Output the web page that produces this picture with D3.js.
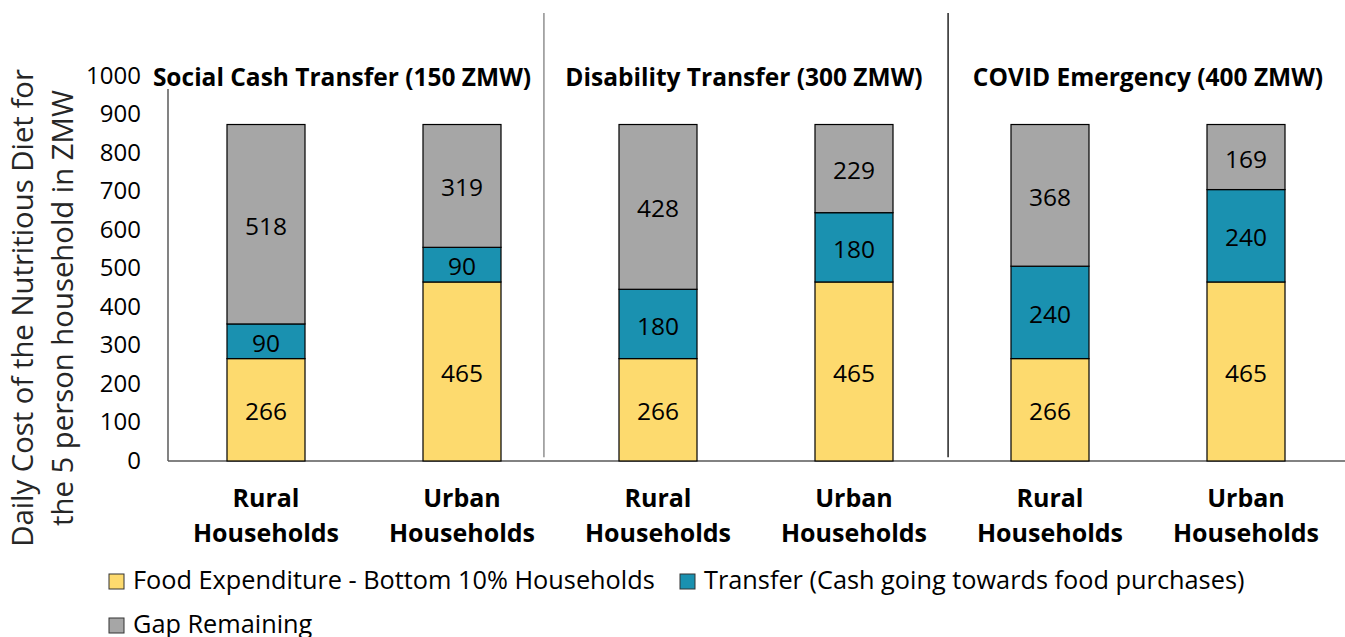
<!DOCTYPE html>
<html lang="en">
<head>
<meta charset="UTF-8">
<title>Cost of the Nutritious Diet vs transfers</title>
<script src="https://cdnjs.cloudflare.com/ajax/libs/d3/7.8.5/d3.min.js"></script>
<style>
    body { margin: 0; background: #fff; }
    text { font-family: "Open Sans", sans-serif; fill: #000; }
    .tick text { font-size: 24px; font-family: "Open Sans", sans-serif; }
    .bar { stroke: #000; stroke-width: 1.2px; }
    .val { font-size: 24.5px; text-anchor: middle; }
    .cat { font-size: 25px; font-weight: bold; text-anchor: middle; }
    .grp { font-size: 24.5px; font-weight: bold; text-anchor: middle; }
    .leg { font-size: 25.3px; }
</style>
</head>
<body>
<div id="chart"></div>
<script>
    // data
    const groups = ["Social Cash Transfer (150 ZMW)", "Disability Transfer (300 ZMW)", "COVID Emergency (400 ZMW)"];
    const categories = ["Rural Households", "Urban Households", "Rural Households", "Urban Households", "Rural Households", "Urban Households"];
    const food = [266, 465, 266, 465, 266, 465];
    const transfer = [90, 90, 180, 180, 240, 240];
    const gap = [518, 319, 428, 229, 368, 169];
    const seriesNames = ["Food Expenditure - Bottom 10% Households", "Transfer (Cash going towards food purchases)", "Gap Remaining"];
    const colors = ["#FDDA6E", "#1A91B0", "#A6A6A6"];
    const yTicks = [0, 100, 200, 300, 400, 500, 600, 700, 800, 900, 1000];

    const width = 1345, height = 637;
    const svg = d3.select("#chart").append("svg")
        .attr("width", width)
        .attr("height", height);

    const ids = categories.map((c, i) => i);
    const x = d3.scaleBand().domain(ids).range([168, 1344])
        .paddingInner(0.602).paddingOuter(0.301);
    const y = d3.scaleLinear().domain([0, 1000]).range([461, 76]);

    // stacked rows
    const rows = ids.map(i => ({ id: i, food: food[i], transfer: transfer[i], gap: gap[i] }));
    const stack = d3.stack().keys(["food", "transfer", "gap"]);
    const layers = stack(rows);

    // y axis labels
    const yAxis = svg.append("g")
        .attr("transform", "translate(141,0)")
        .call(d3.axisLeft(y).tickValues(yTicks).tickFormat(d3.format("d")).tickSize(0).tickPadding(0));
    yAxis.select(".domain").remove();
    yAxis.selectAll("text").attr("dy", "0.3em").attr("fill", "#000");

    // axis lines
    svg.append("line")
        .attr("x1", 168).attr("x2", 168)
        .attr("y1", y(966)).attr("y2", y(0))
        .attr("stroke", "#404040").attr("stroke-width", 1.3);
    svg.append("line")
        .attr("x1", 168).attr("x2", width)
        .attr("y1", y(0)).attr("y2", y(0))
        .attr("stroke", "#595959").attr("stroke-width", 1.5);

    // group separators
    const step = x.step();
    svg.append("line")
        .attr("x1", 168 + step * 1.918).attr("x2", 168 + step * 1.918)
        .attr("y1", 13).attr("y2", y(10))
        .attr("stroke", "#7f7f7f").attr("stroke-width", 1.3);
    svg.append("line")
        .attr("x1", 168 + step * 3.98).attr("x2", 168 + step * 3.98)
        .attr("y1", 13).attr("y2", y(10))
        .attr("stroke", "#000").attr("stroke-width", 1.3);

    // bars
    const layer = svg.selectAll(".layer")
        .data(layers)
        .join("g")
        .attr("class", "layer")
        .attr("fill", (d, i) => colors[i]);

    layer.selectAll("rect")
        .data(d => d)
        .join("rect")
        .attr("class", "bar")
        .attr("x", d => x(d.data.id))
        .attr("width", x.bandwidth())
        .attr("y", d => y(d[1]))
        .attr("height", d => y(d[0]) - y(d[1]));

    layer.selectAll(".val")
        .data(d => d)
        .join("text")
        .attr("class", "val")
        .attr("x", d => x(d.data.id) + x.bandwidth() / 2)
        .attr("y", d => (y(d[0]) + y(d[1])) / 2 + 2)
        .attr("dy", "0.35em")
        .text(d => d[1] - d[0]);

    // category labels
    const cat = svg.selectAll(".cat")
        .data(ids)
        .join("text")
        .attr("class", "cat")
        .attr("x", i => x(i) + x.bandwidth() / 2)
        .attr("y", 507);
    cat.append("tspan").text(i => categories[i].split(" ")[0]);
    cat.append("tspan")
        .attr("x", i => x(i) + x.bandwidth() / 2)
        .attr("dy", 35)
        .text(i => categories[i].split(" ")[1]);

    // group titles
    const grpCenters = [342, 744, 1148];
    svg.selectAll(".grp")
        .data(groups)
        .join("text")
        .attr("class", "grp")
        .attr("x", (d, i) => grpCenters[i])
        .attr("y", 86)
        .text(d => d);

    // y axis title
    svg.append("text")
        .attr("transform", "translate(33,308) rotate(-90)")
        .attr("text-anchor", "middle")
        .style("font-size", "29.3px")
        .style("fill", "#262626")
        .selectAll("tspan")
        .data(["Daily Cost of the Nutritious Diet for", "the 5 person household in ZMW"])
        .join("tspan")
        .attr("x", 0)
        .attr("dy", (d, i) => i === 0 ? 0 : 40)
        .text(d => d);

    // legend
    const legPos = [[109, 574], [680, 574], [109, 618]];
    const leg = svg.selectAll(".legItem")
        .data(seriesNames)
        .join("g")
        .attr("class", "legItem")
        .attr("transform", (d, i) => `translate(${legPos[i][0]},${legPos[i][1]})`);
    leg.append("rect")
        .attr("width", 15).attr("height", 15)
        .attr("fill", (d, i) => colors[i])
        .attr("stroke", "#333").attr("stroke-width", 1);
    leg.append("text")
        .attr("class", "leg")
        .attr("x", 24)
        .attr("y", 15)
        .text(d => d);
</script>
</body>
</html>
